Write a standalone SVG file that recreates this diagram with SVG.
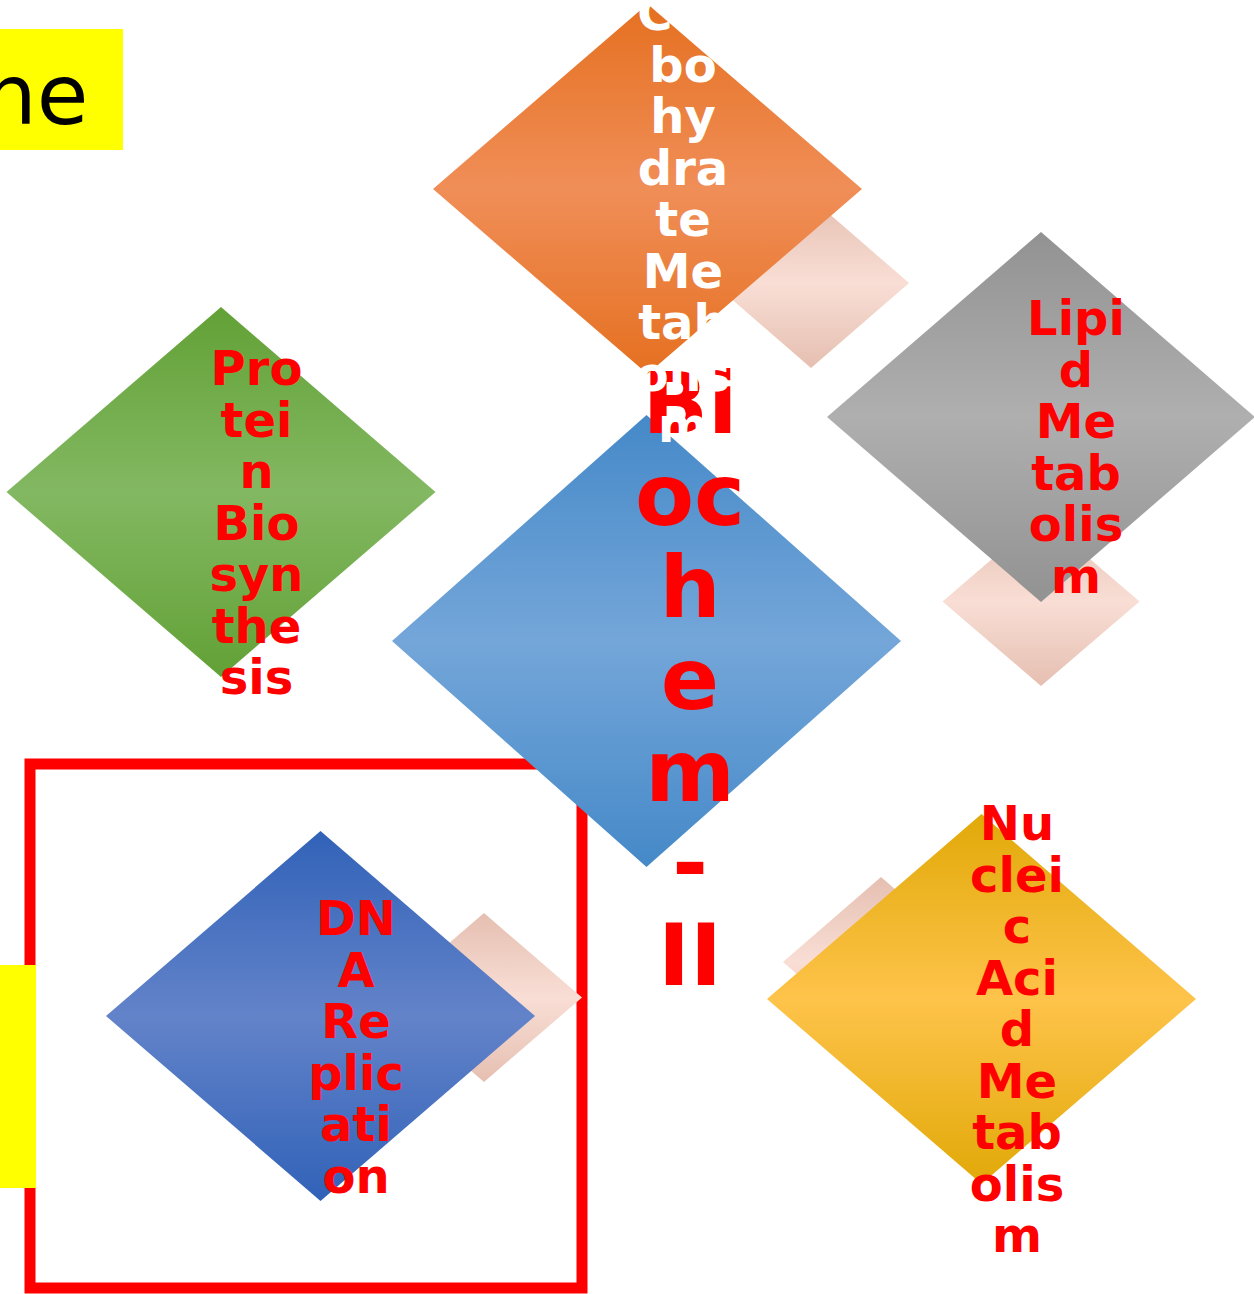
<svg xmlns="http://www.w3.org/2000/svg" width="1254" height="1294" viewBox="0 0 1254 1294">
<style>
.lbl{font-family:"DejaVu Sans",sans-serif;font-weight:bold;font-size:48px;text-anchor:middle;fill:#FF0000}
.wht{fill:#FFFFFF}
.big{font-family:"DejaVu Sans",sans-serif;font-weight:bold;font-size:86px;text-anchor:middle;fill:#FF0000}
</style>
<defs>
<linearGradient id="gOrange" x1="0" y1="0" x2="0" y2="1"><stop offset="0" stop-color="#E57020"/><stop offset="0.5" stop-color="#F08E58"/><stop offset="1" stop-color="#E57020"/></linearGradient>
<linearGradient id="gPink" x1="0" y1="0" x2="0" y2="1"><stop offset="0" stop-color="#E5BFB1"/><stop offset="0.5" stop-color="#F9DED5"/><stop offset="1" stop-color="#E5BFB1"/></linearGradient>
<linearGradient id="gGray" x1="0" y1="0" x2="0" y2="1"><stop offset="0" stop-color="#929292"/><stop offset="0.5" stop-color="#AFAFAF"/><stop offset="1" stop-color="#929292"/></linearGradient>
<linearGradient id="gGreen" x1="0" y1="0" x2="0" y2="1"><stop offset="0" stop-color="#62A136"/><stop offset="0.5" stop-color="#83B862"/><stop offset="1" stop-color="#62A136"/></linearGradient>
<linearGradient id="gBlue" x1="0" y1="0" x2="0" y2="1"><stop offset="0" stop-color="#4589C8"/><stop offset="0.5" stop-color="#74A6D9"/><stop offset="1" stop-color="#4589C8"/></linearGradient>
<linearGradient id="gDna" x1="0" y1="0" x2="0" y2="1"><stop offset="0" stop-color="#3162B8"/><stop offset="0.5" stop-color="#6383C9"/><stop offset="1" stop-color="#3162B8"/></linearGradient>
<linearGradient id="gGold" x1="0" y1="0" x2="0" y2="1"><stop offset="0" stop-color="#E1A908"/><stop offset="0.5" stop-color="#FEC34A"/><stop offset="1" stop-color="#E1A908"/></linearGradient>
</defs>
<rect width="1254" height="1294" fill="#FFFFFF"/>
<g id="title-box">
<rect x="0" y="29" width="123" height="121" fill="#FFFF00"/>
<text x="-16.5" y="124" font-family="DejaVu Sans, sans-serif" font-size="84" fill="#000000">he</text>
</g>
<g id="frame">
<rect x="30" y="764" width="552" height="524" fill="none" stroke="#FF0000" stroke-width="11"/>
<rect x="0" y="965" width="36" height="223" fill="#FFFF00"/>
</g>
<g id="connectors"></g>
<g id="node-dna">
<polygon points="484,913 582,997.5 484,1082 386,997.5" fill="url(#gPink)"/>
<polygon points="320.5,831 535,1016 320.5,1201 106,1016" fill="url(#gDna)"/>
<text class="lbl"><tspan x="356" y="935">DN</tspan><tspan x="356" y="986.5">A</tspan><tspan x="356" y="1038">Re</tspan><tspan x="356" y="1089.5">plic</tspan><tspan x="356" y="1141">ati</tspan><tspan x="356" y="1192.5">on</tspan></text>
</g>
<g id="node-biochem">
<polygon points="646.5,415 901,641 646.5,867 392,641" fill="url(#gBlue)"/>
<text class="big"><tspan x="690" y="433">Bi</tspan><tspan x="690" y="525">oc</tspan><tspan x="690" y="617">h</tspan><tspan x="690" y="709">e</tspan><tspan x="690" y="801">m</tspan><tspan x="690" y="893">-</tspan><tspan x="690" y="985">II</tspan></text>
</g>
<g id="node-carbohydrate">
<polygon points="811,198 909,283 811,368 713,283" fill="url(#gPink)"/>
<polygon points="647.5,4 862,189 647.5,374 433,189" fill="url(#gOrange)"/>
<text class="lbl wht"><tspan x="683" y="30">Car</tspan><tspan x="683" y="81.5">bo</tspan><tspan x="683" y="133">hy</tspan><tspan x="683" y="184.5">dra</tspan><tspan x="683" y="236">te</tspan><tspan x="683" y="287.5">Me</tspan><tspan x="683" y="339">tab</tspan><tspan x="683" y="390.5">olis</tspan><tspan x="683" y="442">m</tspan></text>
</g>
<g id="node-lipid">
<polygon points="1041,517 1139.5,601.5 1041,686 942.5,601.5" fill="url(#gPink)"/>
<polygon points="1041,232 1255,417 1041,602 827,417" fill="url(#gGray)"/>
<text class="lbl"><tspan x="1076" y="335">Lipi</tspan><tspan x="1076" y="386.5">d</tspan><tspan x="1076" y="438">Me</tspan><tspan x="1076" y="489.5">tab</tspan><tspan x="1076" y="541">olis</tspan><tspan x="1076" y="592.5">m</tspan></text>
</g>
<g id="node-protein">
<polygon points="221,307 435.5,492 221,677 6.5,492" fill="url(#gGreen)"/>
<text class="lbl"><tspan x="256.5" y="385">Pro</tspan><tspan x="256.5" y="436.5">tei</tspan><tspan x="256.5" y="488">n</tspan><tspan x="256.5" y="539.5">Bio</tspan><tspan x="256.5" y="591">syn</tspan><tspan x="256.5" y="642.5">the</tspan><tspan x="256.5" y="694">sis</tspan></text>
</g>
<g id="node-nucleic">
<polygon points="881,877 979,962 881,1047 783,962" fill="url(#gPink)"/>
<polygon points="981.5,814 1196,999 981.5,1184 767,999" fill="url(#gGold)"/>
<text class="lbl"><tspan x="1017" y="840">Nu</tspan><tspan x="1017" y="891.5">clei</tspan><tspan x="1017" y="943">c</tspan><tspan x="1017" y="994.5">Aci</tspan><tspan x="1017" y="1046">d</tspan><tspan x="1017" y="1097.5">Me</tspan><tspan x="1017" y="1149">tab</tspan><tspan x="1017" y="1200.5">olis</tspan><tspan x="1017" y="1252">m</tspan></text>
</g>
</svg>
